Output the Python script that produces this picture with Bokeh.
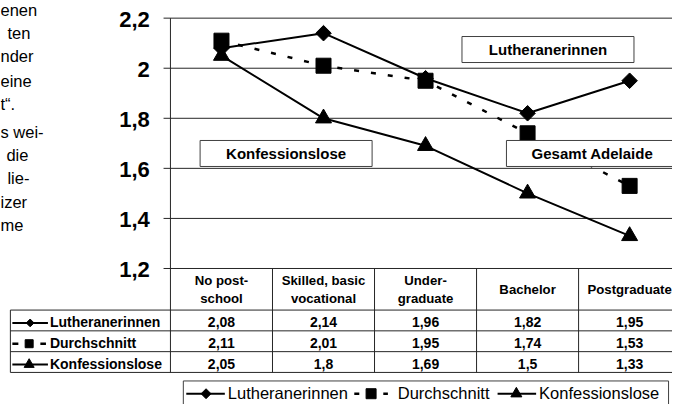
import math
from bokeh.plotting import figure
from bokeh.models import Range1d
from bokeh.core.properties import value
from bokeh.embed import file_html
from bokeh.resources import INLINE

# ---------------- data ----------------
categories = ["No post-\nschool", "Skilled, basic\nvocational", "Under-\ngraduate",
              "Bachelor", "Postgraduate"]
series_names = ["Lutheranerinnen", "Durchschnitt", "Konfessionslose"]
lutheranerinnen = [2.08, 2.14, 1.96, 1.82, 1.95]
durchschnitt = [2.11, 2.01, 1.95, 1.74, 1.53]
konfessionslose = [2.05, 1.8, 1.69, 1.5, 1.33]
y_ticks = [1.2, 1.4, 1.6, 1.8, 2.0, 2.2]
y_tick_labels = ["1,2", "1,4", "1,6", "1,8", "2", "2,2"]
box_labels = ["Lutheranerinnen", "Konfessionslose", "Gesamt Adelaide"]
side_text = ["enen", "ten", "nder", "eine", "t\u201c.", "s wei-", "die", "lie-", "izer", "me"]

# ---------------- layout ----------------
# The figure shows the reference canvas (REF_W x REF_H px) scaled onto W x H.
W, H = 672, 404
REF_W, REF_H = 680, 412
X0, DX = 223.6, 103.25               # ref px: centre of first category, px per category
V_TOP, Y_TOP, PXV = 2.2, 18.0, 255.3  # value at top gridline, its ref px, ref px per unit
T0, TR = 273.3, 21.2                  # table top ref px, ref px per table row
HEADER_ROWS = 2

FONT = value("Liberation Sans")
LINE_C = "#262626"

p = figure(width=W, height=H, output_backend="svg", toolbar_location=None,
           x_range=Range1d(-X0 / DX, (REF_W - X0) / DX),
           y_range=Range1d(V_TOP - (REF_H - Y_TOP) / PXV, V_TOP + Y_TOP / PXV),
           x_axis_location=None, y_axis_location=None, min_border=0,
           outline_line_color=None, background_fill_color="white",
           border_fill_color="white")
p.grid.visible = False
p.extra_x_ranges = {"px": Range1d(0, REF_W)}
p.extra_y_ranges = {"py": Range1d(REF_H, 0),
                    "tbl": Range1d((REF_H - T0) / TR, -T0 / TR)}

xs = list(range(len(categories)))
n_rows = len(series_names)

# ---------------- side paragraph fragments ----------------
side_left = [0, 7, 0, 0, 0, 0, 6, 7, 0, 0]
side_mid = [10, 33, 57, 82, 106, 134, 158, 181, 205, 229]
p.text(x=side_left, y=side_mid, text=side_text, x_range_name="px", y_range_name="py",
       text_font=FONT, text_font_size="16.5px", text_align="left",
       text_baseline="middle", text_color="black")

# ---------------- y axis (ticks, labels, grid) ----------------
p.segment(x0=165, x1=700, y0=y_ticks, y1=y_ticks, x_range_name="px",
          line_color=LINE_C, line_width=1)
p.segment(x0=-0.5, x1=-0.5, y0=min(y_ticks), y1=max(y_ticks),
          line_color=LINE_C, line_width=1)
p.text(x=151, y=y_ticks, text=y_tick_labels, x_range_name="px",
       text_font=FONT, text_font_size="22px", text_font_style="bold",
       text_align="right", text_baseline="middle", y_offset=1.5, text_color="black")

# ---------------- series ----------------
p.line(xs, lutheranerinnen, line_color="black", line_width=2)
p.line(xs, durchschnitt, line_color="black", line_width=2.5, line_dash="5 12")
p.line(xs, konfessionslose, line_color="black", line_width=2)
p.scatter(xs, lutheranerinnen, marker="square", angle=math.pi / 4, size=11,
          fill_color="black", line_color="black")
p.scatter(xs, durchschnitt, marker="square", size=15, fill_color="black", line_color="black")
p.scatter(xs, konfessionslose, marker="triangle", size=16, fill_color="black",
          line_color="black")

# ---------------- label boxes ----------------
box_x = [554, 289, 599]
box_y = [50, 156, 156]
p.rect(x=box_x, y=box_y, width=172, height=26, width_units="screen", height_units="screen",
       x_range_name="px", y_range_name="py", fill_color="white", line_color="#404040",
       line_width=1)
p.text(x=box_x, y=box_y, text=box_labels, x_range_name="px", y_range_name="py",
       text_font=FONT, text_font_size="15px", text_font_style="bold",
       text_align="center", text_baseline="middle", text_color="black")

# ---------------- data table ----------------
row_lines = [HEADER_ROWS + k for k in range(n_rows + 1)]
p.segment(x0=10, x1=700, y0=row_lines, y1=row_lines, x_range_name="px",
          y_range_name="tbl", line_color=LINE_C, line_width=1)
col_lines = [i - 0.5 for i in range(len(categories) + 1)]
p.segment(x0=col_lines, x1=col_lines, y0=0, y1=HEADER_ROWS + n_rows,
          y_range_name="tbl", line_color=LINE_C, line_width=1)
p.segment(x0=10, x1=10, y0=HEADER_ROWS, y1=HEADER_ROWS + n_rows, x_range_name="px",
          y_range_name="tbl", line_color=LINE_C, line_width=1)

p.text(x=xs, y=HEADER_ROWS / 2, text=categories, y_range_name="tbl",
       text_font=FONT, text_font_size="13.2px", text_font_style="bold",
       text_align="center", text_baseline="middle", text_line_height=1.22,
       text_color="black")

row_centres = [HEADER_ROWS + k + 0.5 for k in range(n_rows)]
p.text(x=50, y=row_centres, text=series_names, x_range_name="px", y_range_name="tbl",
       text_font=FONT, text_font_size="14px", text_font_style="bold",
       text_align="left", text_baseline="middle", y_offset=2, text_color="black")

def fmt(v):
    return ("%g" % v).replace(".", ",")

for k, vals in enumerate([lutheranerinnen, durchschnitt, konfessionslose]):
    p.text(x=xs, y=row_centres[k], text=[fmt(v) for v in vals], y_range_name="tbl",
           text_font=FONT, text_font_size="14px", text_font_style="bold",
           text_align="center", text_baseline="middle", y_offset=2, text_color="black")

# row-label samples
sd = 2.5 / TR
p.line(x=[12, 48], y=[row_centres[0] + sd] * 2, x_range_name="px", y_range_name="tbl",
       line_color="black", line_width=2)
p.scatter(x=[30], y=[row_centres[0] + sd], x_range_name="px", y_range_name="tbl",
          marker="square", angle=math.pi / 4, size=5.5, color="black")
p.line(x=[12, 46], y=[row_centres[1] + sd] * 2, x_range_name="px", y_range_name="tbl",
       line_color="black", line_width=2.5, line_dash="6 22")
p.scatter(x=[29], y=[row_centres[1] + sd], x_range_name="px", y_range_name="tbl",
          marker="square", size=8, color="black")
p.line(x=[12, 48], y=[row_centres[2] + sd] * 2, x_range_name="px", y_range_name="tbl",
       line_color="black", line_width=2)
p.scatter(x=[29], y=[row_centres[2] + sd], x_range_name="px", y_range_name="tbl",
          marker="triangle", size=10, color="black")

# ---------------- bottom legend ----------------
p.quad(left=185, right=676, top=388, bottom=430, x_range_name="px", y_range_name="py",
       fill_color="white", line_color="#404040", line_width=1)
ly = 401
p.line(x=[188, 227], y=[ly, ly], x_range_name="px", y_range_name="py",
       line_color="black", line_width=2)
p.scatter(x=[208], y=[ly], x_range_name="px", y_range_name="py",
          marker="square", angle=math.pi / 4, size=7, color="black")
p.line(x=[358, 392], y=[ly, ly], x_range_name="px", y_range_name="py",
       line_color="black", line_width=2.5, line_dash="5 24")
p.scatter(x=[375], y=[ly], x_range_name="px", y_range_name="py",
          marker="square", size=10, color="black")
p.line(x=[503, 542], y=[ly, ly], x_range_name="px", y_range_name="py",
       line_color="black", line_width=2)
p.scatter(x=[522], y=[ly], x_range_name="px", y_range_name="py",
          marker="triangle", size=11, color="black")
p.text(x=[230, 402, 545], y=400.5, text=series_names, x_range_name="px", y_range_name="py",
       text_font=FONT, text_font_size="16.5px", text_align="left",
       text_baseline="middle", text_color="black")

open("out.html", "w").write(file_html(p, INLINE))
